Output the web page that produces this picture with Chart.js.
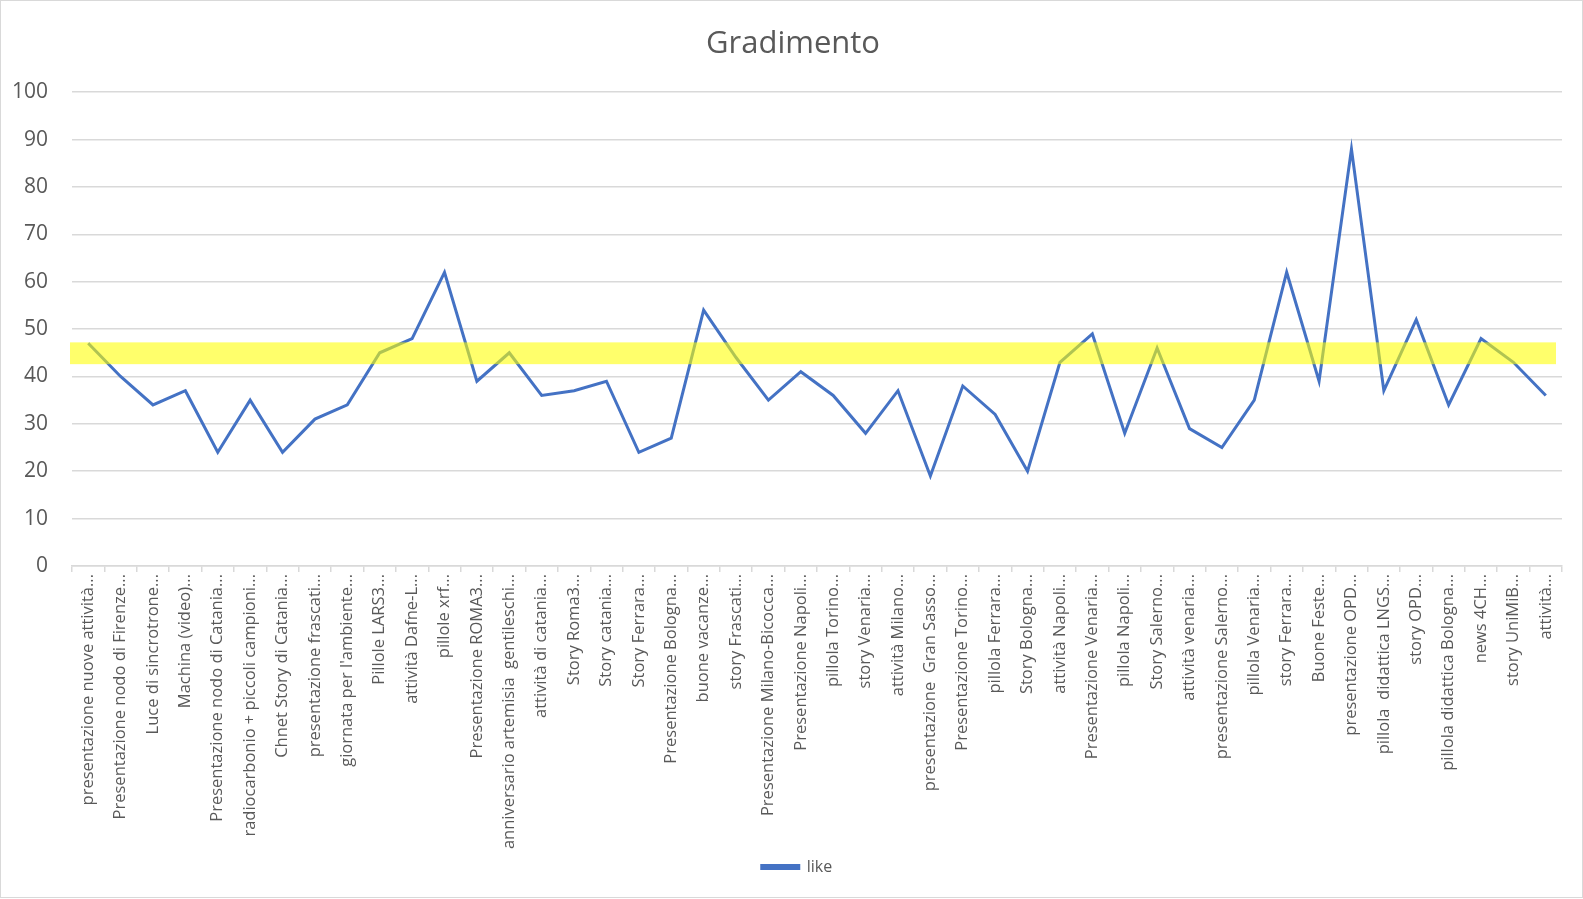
<!DOCTYPE html>
<html>
<head>
<meta charset="utf-8">
<script src="https://cdn.jsdelivr.net/npm/chart.js@4.4.1/dist/chart.umd.min.js"></script>
<style>
  html, body { margin: 0; padding: 0; background: #fff; }
  #wrap { width: 1583px; height: 899px; position: relative; }
</style>
</head>
<body>
<div id="wrap"><canvas id="gradChart" width="1583" height="899"></canvas></div>
<script>
// categories (as truncated on the original axis)
const labels = [
  'presentazione nuove attività...', 'Presentazione nodo di Firenze...', 'Luce di sincrotrone...',
  'Machina (video)...', 'Presentazione nodo di Catania...', 'radiocarbonio + piccoli campioni...',
  'Chnet Story di Catania...', 'presentazione frascati...', "giornata per l'ambiente...",
  'Pillole LARS3...', 'attività Dafne-L...', 'pillole xrf...', 'Presentazione ROMA3...',
  'anniversario artemisia  gentileschi...', 'attività di catania...', 'Story Roma3...',
  'Story catania...', 'Story Ferrara...', 'Presentazione Bologna...', 'buone vacanze...',
  'story Frascati...', 'Presentazione Milano-Bicocca...', 'Presentazione Napoli...',
  'pillola Torino...', 'story Venaria...', 'attività Milano...', 'presentazione  Gran Sasso...',
  'Presentazione Torino...', 'pillola Ferrara...', 'Story Bologna...', 'attività Napoli...',
  'Presentazione Venaria...', 'pillola Napoli...', 'Story Salerno...', 'attività venaria...',
  'presentazione Salerno...', 'pillola Venaria...', 'story Ferrara...', 'Buone Feste...',
  'presentazione OPD...', 'pillola  didattica LNGS...', 'story OPD...',
  'pillola didattica Bologna...', 'news 4CH...', 'story UniMiB...', 'attività...'
];

const likes = [
  47, 40, 34, 37, 24, 35, 24, 31, 34, 45, 48, 62, 39, 45, 36, 37,
  39, 24, 27, 54, 44, 35, 41, 36, 28, 37, 19, 38, 32, 20, 43, 49,
  28, 46, 29, 25, 35, 62, 39, 88, 37, 52, 34, 48, 43, 36
];

// highlighted band (yellow strip across the chart)
const bandLow = 42.6;
const bandHigh = 47.2;

const yTicks = [0, 10, 20, 30, 40, 50, 60, 70, 80, 90, 100];

const textColor = '#595959';
const gridColor = '#d9d9d9';

const bandPlugin = {
  id: 'band',
  afterLayout(chart) {
    // title and legend sit a bit right of centre in the original
    chart.legend.left += 16;
    chart.legend.right += 16;
    chart.titleBlock.left += 12;
    chart.titleBlock.right += 12;
  },
  afterDatasetsDraw(chart) {
    const { ctx, chartArea, scales } = chart;
    const top = scales.y.getPixelForValue(bandHigh);
    const bottom = scales.y.getPixelForValue(bandLow);
    ctx.save();
    ctx.fillStyle = 'rgba(255, 255, 0, 0.58)';
    ctx.fillRect(chartArea.left - 2, top, chartArea.right - chartArea.left - 4, bottom - top);
    ctx.restore();
  },
  afterDraw(chart) {
    // thin frame like the spreadsheet chart object
    const { ctx, width, height } = chart;
    ctx.save();
    ctx.strokeStyle = gridColor;
    ctx.lineWidth = 1;
    ctx.strokeRect(0.5, 0.5, width - 1, height - 2);
    ctx.restore();
  }
};

const ctx = document.getElementById('gradChart').getContext('2d');
new Chart(ctx, {
  type: 'line',
  data: {
    labels,
    datasets: [{
      label: 'like',
      data: likes,
      borderColor: '#4472C4',
      backgroundColor: '#4472C4',
      borderWidth: 3,
      pointRadius: 0,
      tension: 0
    }]
  },
  options: {
    responsive: false,
    animation: false,
    layout: { padding: { left: 0, right: 21, top: 0, bottom: 14 } },
    plugins: {
      title: {
        display: true,
        text: 'Gradimento',
        color: textColor,
        font: { family: 'Open Sans', size: 31, weight: 'normal' },
        padding: { top: 26, bottom: 29 }
      },
      legend: {
        position: 'bottom',
        labels: {
          color: textColor,
          font: { family: 'Open Sans', size: 16 },
          boxWidth: 37,
          boxHeight: 3,
          padding: 10
        }
      },
      tooltip: { enabled: false }
    },
    scales: {
      x: {
        offset: true,
        grid: {
          display: true,
          offset: true,
          drawOnChartArea: false,
          drawTicks: true,
          tickLength: 6,
          color: gridColor,
          lineWidth: 1.5
        },
        border: { color: gridColor, width: 1.5 },
        ticks: {
          autoSkip: false,
          maxRotation: 90,
          minRotation: 90,
          color: textColor,
          padding: 2,
          font: { family: 'Open Sans', size: 16.5 }
        },
        afterFit(scale) { scale.height = 283; }
      },
      y: {
        min: 0,
        max: 100,
        afterBuildTicks(scale) { scale.ticks = yTicks.map(v => ({ value: v })); },
        grid: { color: gridColor, lineWidth: 1.5, drawTicks: false },
        border: { display: false },
        ticks: {
          color: textColor,
          padding: 24,
          font: { family: 'Open Sans', size: 21 }
        },
        afterFit(scale) { scale.width = 72; }
      }
    }
  },
  plugins: [bandPlugin]
});
</script>
</body>
</html>
